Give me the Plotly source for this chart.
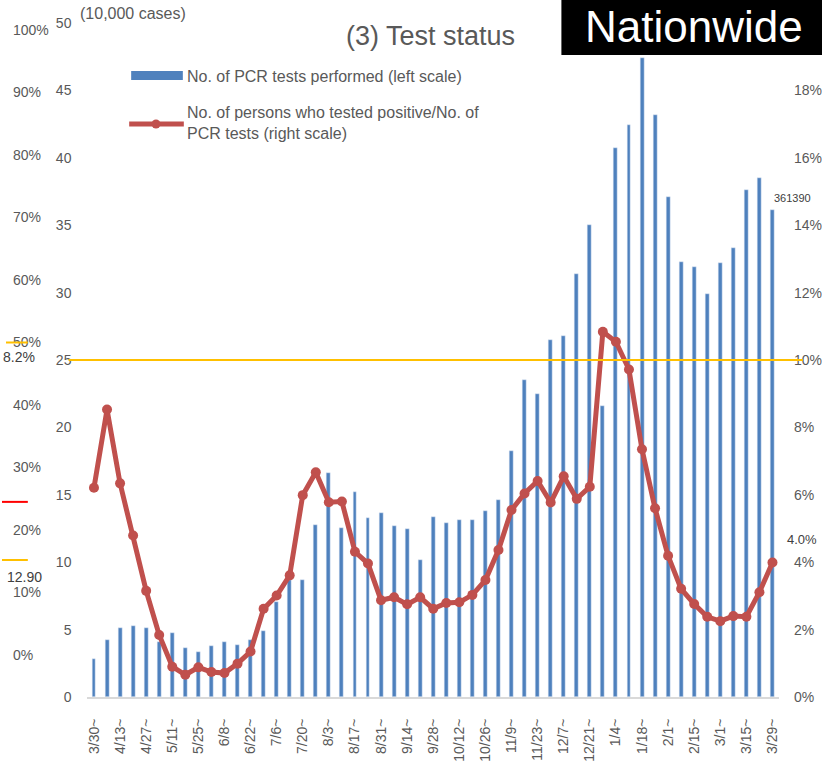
import plotly.graph_objects as go

# week start dates (Mar 2020 - Mar 2021)
weeks = ["3/30~", "4/6~", "4/13~", "4/20~", "4/27~", "5/4~", "5/11~", "5/18~", "5/25~",
         "6/1~", "6/8~", "6/15~", "6/22~", "6/29~", "7/6~", "7/13~", "7/20~", "7/27~",
         "8/3~", "8/10~", "8/17~", "8/24~", "8/31~", "9/7~", "9/14~", "9/21~", "9/28~",
         "10/5~", "10/12~", "10/19~", "10/26~", "11/2~", "11/9~", "11/16~", "11/23~",
         "11/30~", "12/7~", "12/14~", "12/21~", "12/28~", "1/4~", "1/11~", "1/18~",
         "1/25~", "2/1~", "2/8~", "2/15~", "2/22~", "3/1~", "3/8~", "3/15~", "3/22~",
         "3/29~"]

# PCR tests performed (10,000 cases)
tests = [2.8, 4.2, 5.1, 5.3, 5.15, 4.05, 4.75, 3.6, 3.35, 3.8, 4.05, 3.85, 4.2, 4.9,
         7.05, 8.7, 8.65, 12.75, 16.6, 12.55, 15.2, 13.3, 13.65, 12.65, 12.45, 10.15,
         13.35, 12.9, 13.1, 13.1, 13.8, 14.6, 18.25, 23.5, 22.45, 26.5, 26.8, 31.4,
         35.0, 21.6, 40.7, 42.4, 47.4, 43.2, 37.1, 32.3, 31.9, 29.9, 32.2, 33.3, 37.6,
         38.5, 36.139]

# positives / tests (%)
positivity = [6.21, 8.53, 6.34, 4.79, 3.15, 1.84, 0.90, 0.66, 0.88, 0.74, 0.71, 0.99,
              1.35, 2.62, 3.01, 3.61, 5.99, 6.67, 5.78, 5.80, 4.31, 3.96, 2.87, 2.96,
              2.75, 2.96, 2.62, 2.79, 2.81, 3.03, 3.47, 4.36, 5.55, 6.04, 6.41, 5.77,
              6.55, 5.88, 6.24, 10.84, 10.54, 9.72, 7.35, 5.60, 4.19, 3.21, 2.76, 2.38,
              2.25, 2.40, 2.38, 3.11, 3.99]

left_ticks = [0, 5, 10, 15, 20, 25, 30, 35, 40, 45, 50]
right_ticks = [0, 2, 4, 6, 8, 10, 12, 14, 16, 18]
share_ticks = [0, 10, 20, 30, 40, 50, 60, 70, 80, 90, 100]

W, H = 822, 771
ML, MR, MT, MB = 0, 40, 23, 74
PW = W - ML - MR
PH = H - MT - MB

def px(x):
    return (x - ML) / PW

def py(y):
    return (H - MB - y) / PH

GRAY = "#595959"
FONT = "Liberation Sans, Arial, sans-serif"

fig = go.Figure()
fig.add_trace(go.Bar(x=weeks, y=tests, marker_color="#4F81BD", width=0.3,
                     name="No. of PCR tests performed (left scale)"))
fig.add_trace(go.Scatter(x=weeks, y=positivity, yaxis="y2", mode="lines+markers",
                         line=dict(color="#C0504D", width=5),
                         marker=dict(size=10, color="#C0504D"),
                         name="No. of persons who tested positive/No. of PCR tests (right scale)"))

shapes = [
    # 10% / 25 reference line
    dict(type="line", xref="paper", yref="y", x0=px(67), x1=px(806), y0=25, y1=25,
         line=dict(color="#FFC000", width=2)),
    # stray marks on the far left
    dict(type="line", xref="paper", yref="y3", x0=px(4), x1=px(26), y0=50, y1=50,
         line=dict(color="#FFC000", width=2)),
    dict(type="line", xref="paper", yref="y3", x0=px(0), x1=px(26), y0=24.5, y1=24.5,
         line=dict(color="#FF0000", width=2)),
    dict(type="line", xref="paper", yref="y3", x0=px(0), x1=px(26), y0=15.2, y1=15.2,
         line=dict(color="#FFC000", width=2)),
    # Nationwide box
    dict(type="rect", xref="paper", yref="paper", x0=px(563), x1=px(830), y0=py(55), y1=py(-5),
         fillcolor="black", line=dict(width=0), layer="below"),
    # legend swatches
    dict(type="rect", xref="paper", yref="paper", x0=px(130), x1=px(182), y0=py(80), y1=py(71),
         fillcolor="#4F81BD", line=dict(width=0)),
    dict(type="line", xref="paper", yref="paper", x0=px(128), x1=px(183), y0=py(124), y1=py(124),
         line=dict(color="#C0504D", width=5)),
    dict(type="circle", xref="paper", yref="paper", x0=px(150.5), x1=px(159.5), y0=py(128.5), y1=py(119.5),
         fillcolor="#C0504D", line=dict(width=0)),
]


def note(text, x, y, size=16, color=GRAY, xanchor="left", **kw):
    return dict(text=text, xref="paper", yref="paper", x=px(x), y=py(y),
                xanchor=xanchor, yanchor="middle", showarrow=False,
                font=dict(size=size, color=color, family=FONT), **kw)


annotations = [
    note("(3) Test status", 431, 36, size=27, xanchor="center"),
    note("Nationwide", 696, 27, size=44, color="white", xanchor="center", borderpad=0),
    note("(10,000 cases)", 76, 14),
    note("No. of PCR tests performed (left scale)", 184, 76),
    note("No. of persons who tested positive/No. of<br>PCR tests (right scale)", 184, 123, align="left"),
    note("8.2%", -1, 357, size=14, color="#404040"),
    note("12.90", 3, 577, size=14, color="#404040"),
    dict(text=str(round(tests[-1] * 10000)), x=weeks[-1], y=tests[-1], xref="x", yref="y",
         xanchor="left", yanchor="middle", showarrow=False, xshift=0, yshift=12,
         font=dict(size=11, color="#404040", family=FONT)),
    dict(text=f"{positivity[-1]:.1f}%", x=weeks[-1], y=positivity[-1], xref="x", yref="y2",
         xanchor="left", yanchor="middle", showarrow=False, xshift=13, yshift=23,
         font=dict(size=13, color="#404040", family=FONT)),
]

tickfont = dict(size=14, color=GRAY, family=FONT)

fig.update_layout(
    width=W, height=H,
    margin=dict(l=ML, r=MR, t=MT, b=MB),
    paper_bgcolor="white", plot_bgcolor="white",
    showlegend=False, bargap=0,
    xaxis=dict(domain=[px(86), 1], type="category", range=[-0.5, len(weeks) - 0.5],
               tickvals=weeks[::2], tickangle=-90, ticks="", showgrid=False,
               showline=True, linecolor="#D9D9D9", linewidth=2,
               ticklabelstandoff=14, tickfont=tickfont),
    yaxis=dict(range=[0, 50], tickvals=left_ticks, showgrid=False, zeroline=False,
               ticks="", ticklabelstandoff=15, tickfont=tickfont),
    yaxis2=dict(range=[0, 20], tickvals=right_ticks, ticktext=[f"{v}%" for v in right_ticks],
                overlaying="y", side="right", showgrid=False, zeroline=False, ticks="",
                ticklabelstandoff=14, tickfont=tickfont),
    yaxis3=dict(range=[-6.72, 101.12], tickvals=share_ticks,
                ticktext=[f"{v}%" for v in share_ticks],
                overlaying="y", anchor="free", position=0, side="right",
                showgrid=False, zeroline=False, showline=False, ticks="",
                ticklabelstandoff=10, tickfont=tickfont),
    shapes=shapes,
    annotations=annotations,
)

fig.write_html("out.html", config={"displayModeBar": False},
               post_script="document.body.style.margin='0';")
